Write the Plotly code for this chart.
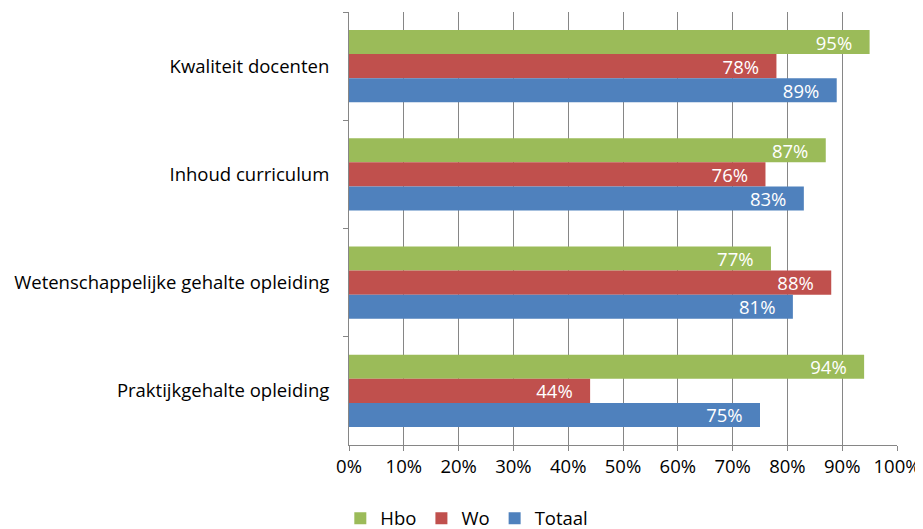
import plotly.graph_objects as go

categories = ["Kwaliteit docenten", "Inhoud curriculum",
              "Wetenschappelijke gehalte opleiding", "Praktijkgehalte opleiding"]
hbo = [95, 87, 77, 94]
wo = [78, 76, 88, 44]
totaal = [89, 83, 81, 75]
x_ticks = [0, 10, 20, 30, 40, 50, 60, 70, 80, 90, 100]

series = [("Hbo", hbo, "#9BBB59"), ("Wo", wo, "#C0504D"), ("Totaal", totaal, "#4F81BD")]

FONT = "Open Sans"
FS = 18.5
fig = go.Figure()
for name, vals, col in series:
    fig.add_trace(go.Bar(
        name=name, y=categories, x=vals, orientation="h",
        marker=dict(color=col, line=dict(width=0)),
        text=[f"{v}%\u00a0\u00a0\u00a0" for v in vals],
        textposition="inside", insidetextanchor="end", textangle=0,
        textfont=dict(color="white", size=FS, family=FONT),
        constraintext="none",
    ))

# the page body has an 8px margin, so the figure is 8px smaller each way
fig.update_layout(
    barmode="group", bargap=0.333, bargroupgap=0,
    width=915, height=521,
    margin=dict(l=341, r=26, t=4, b=84, autoexpand=False),
    paper_bgcolor="white", plot_bgcolor="white",
    font=dict(family=FONT, size=FS, color="#000000"),
    showlegend=True,
    legend=dict(orientation="h", x=0.215, y=-0.17, xanchor="center", yanchor="middle",
                font=dict(size=FS), traceorder="normal", itemwidth=30),
)
fig.update_xaxes(range=[0, 100], tickvals=x_ticks, ticktext=[f"{t}%" for t in x_ticks],
                 showgrid=True, gridcolor="#868686", gridwidth=1,
                 showline=True, linecolor="#868686", linewidth=1,
                 ticks="outside", ticklen=5, tickcolor="#868686", zeroline=False,
                 automargin=False)
fig.update_yaxes(autorange="reversed", showgrid=False,
                 showline=True, linecolor="#868686", linewidth=1,
                 ticks="outside", ticklen=5, tickcolor="#868686", tickson="boundaries",
                 ticklabelstandoff=15, automargin=False)

fig.write_html("out.html")
